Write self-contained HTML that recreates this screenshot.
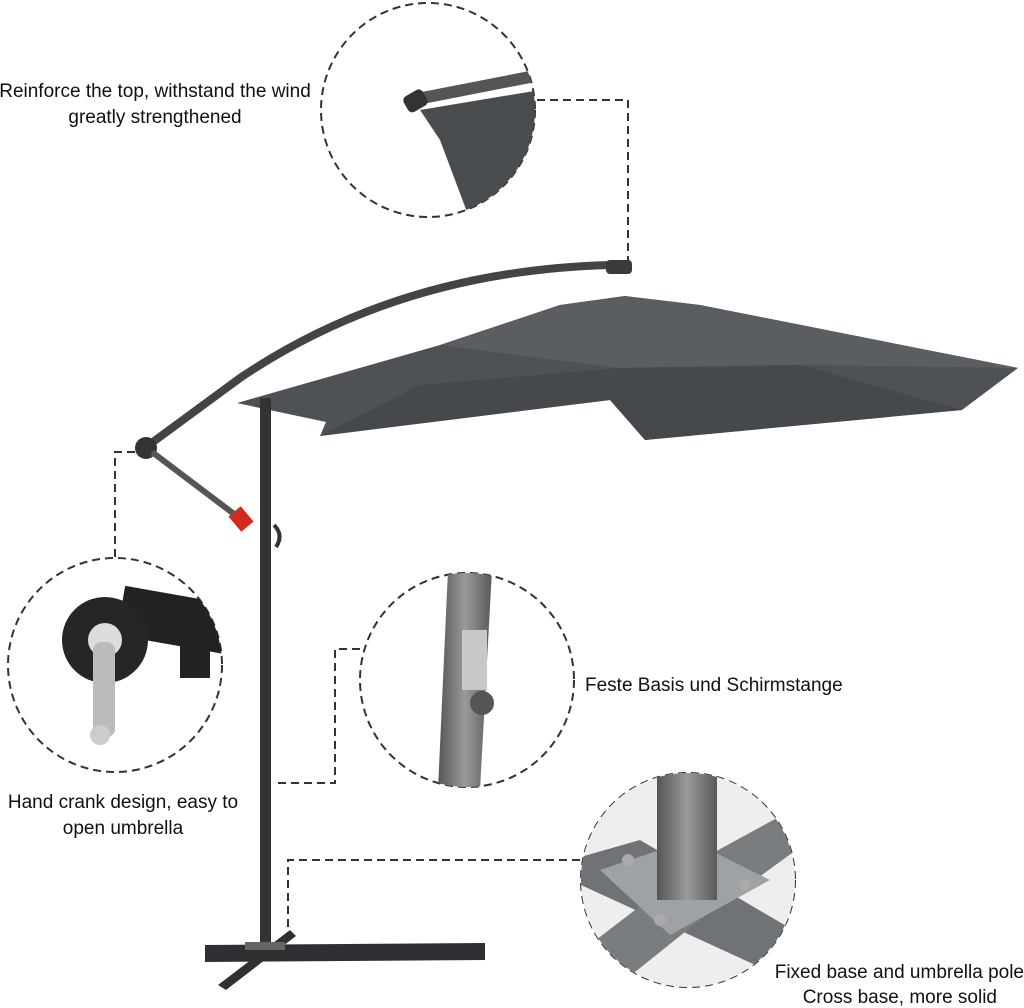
<!DOCTYPE html>
<html><head><meta charset="utf-8"><style>
html,body{margin:0;padding:0;background:#fff;}
svg{display:block}
text{font-family:"Liberation Sans",sans-serif;font-size:19px;fill:#111}
</style></head><body>
<svg width="1024" height="1008" viewBox="0 0 1024 1008">
<defs>
<clipPath id="c1"><circle cx="428" cy="110" r="107"/></clipPath>
<clipPath id="c2"><circle cx="115" cy="665" r="107"/></clipPath>
<clipPath id="c3"><circle cx="467" cy="680" r="107"/></clipPath>
<clipPath id="c4"><circle cx="688" cy="880" r="107"/></clipPath>
<linearGradient id="pg" x1="0" x2="1"><stop offset="0" stop-color="#555"/><stop offset=".5" stop-color="#9a9a9a"/><stop offset="1" stop-color="#5a5a5a"/></linearGradient>
</defs>
<g stroke="#333" stroke-width="2" stroke-dasharray="8,5" fill="none">
<circle cx="428" cy="110" r="107"/>
<circle cx="115" cy="665" r="107"/>
<circle cx="467" cy="680" r="107"/>
<circle cx="688" cy="880" r="107"/>
<polyline points="537,100 628,100 628,265"/>
<polyline points="115,557 115,452 135,452"/>
<polyline points="360,649 335,649 335,783 276,783"/>
<polyline points="580,860 288,860 288,935"/>
</g>
<polygon points="237,403 440,345 560,305 625,296 700,305 1018,368 962,410 645,440 610,400 320,436 326,422 260,408" fill="#4e5155"/>
<polygon points="560,305 625,296 700,305 1018,368 800,365 620,368 440,345" fill="#5a5d61"/>
<polygon points="320,436 610,400 645,440 962,410 800,365 620,368 420,385" fill="#45484c"/>
<path d="M142,450 L240,378 Q400,270 612,265" stroke="#444" stroke-width="8" fill="none" stroke-linecap="round"/>
<rect x="606" y="260" width="26" height="14" rx="4" fill="#3a3a3a"/>
<circle cx="146" cy="448" r="11" fill="#333"/>
<line x1="152" y1="452" x2="242" y2="520" stroke="#555" stroke-width="6"/>
<rect x="233" y="509" width="16" height="20" fill="#d32a1e" transform="rotate(-40 241 519)"/>
<rect x="260" y="398" width="11" height="550" fill="#333"/>
<path d="M274,525 q10,10 2,22" stroke="#333" stroke-width="4" fill="none"/>
<polygon points="205,945 485,943 485,960 205,962" fill="#2e3033"/>
<polygon points="218,985 290,930 296,936 226,990" fill="#2e3033"/>
<rect x="245" y="942" width="40" height="8" fill="#666"/>
<g clip-path="url(#c1)">
<polygon points="420,110 540,90 540,240 470,220 440,140" fill="#4a4d50"/>
<path d="M412,100 L540,75" stroke="#555" stroke-width="12"/>
<rect x="404" y="92" width="22" height="18" rx="5" fill="#333" transform="rotate(-30 415 100)"/>
</g>
<g clip-path="url(#c2)">
<rect x="120" y="595" width="110" height="50" fill="#222" transform="rotate(10 175 620)"/>
<circle cx="105" cy="640" r="43" fill="#262626"/>
<rect x="180" y="640" width="30" height="38" fill="#222"/>
<circle cx="105" cy="640" r="17" fill="#ddd"/>
<rect x="93" y="642" width="22" height="95" rx="8" fill="#bbb"/>
<circle cx="100" cy="735" r="10" fill="#ccc"/>
</g>
<g clip-path="url(#c3)">
<polygon points="448,570 492,570 480,790 438,790" fill="url(#pg)"/>
<rect x="462" y="630" width="25" height="60" fill="#c8c8c8"/>
<circle cx="482" cy="703" r="12" fill="#555"/>
</g>
<g clip-path="url(#c4)">
<rect x="570" y="760" width="240" height="240" fill="#eee"/>
<polygon points="570,860 640,840 810,940 810,990 570,880" fill="#6f7276"/>
<polygon points="570,960 700,860 810,800 810,840 700,920 600,1000" fill="#7a7d80"/>
<polygon points="600,870 690,840 770,880 670,935" fill="#9fa2a5"/>
<rect x="657" y="770" width="60" height="130" fill="url(#pg)"/>
<circle cx="628" cy="860" r="6" fill="#aaa"/><circle cx="745" cy="885" r="6" fill="#aaa"/><circle cx="660" cy="920" r="6" fill="#aaa"/>
</g>
<text x="155" y="97" text-anchor="middle">Reinforce the top, withstand the wind</text>
<text x="155" y="123" text-anchor="middle">greatly strengthened</text>
<text x="585" y="691">Feste Basis und Schirmstange</text>
<text x="123" y="808" text-anchor="middle">Hand crank design, easy to</text>
<text x="123" y="834" text-anchor="middle">open umbrella</text>
<text x="1024" y="978" text-anchor="end">Fixed base and umbrella pole</text>
<text x="997" y="1003" text-anchor="end">Cross base, more solid</text>
</svg>
</body></html>
